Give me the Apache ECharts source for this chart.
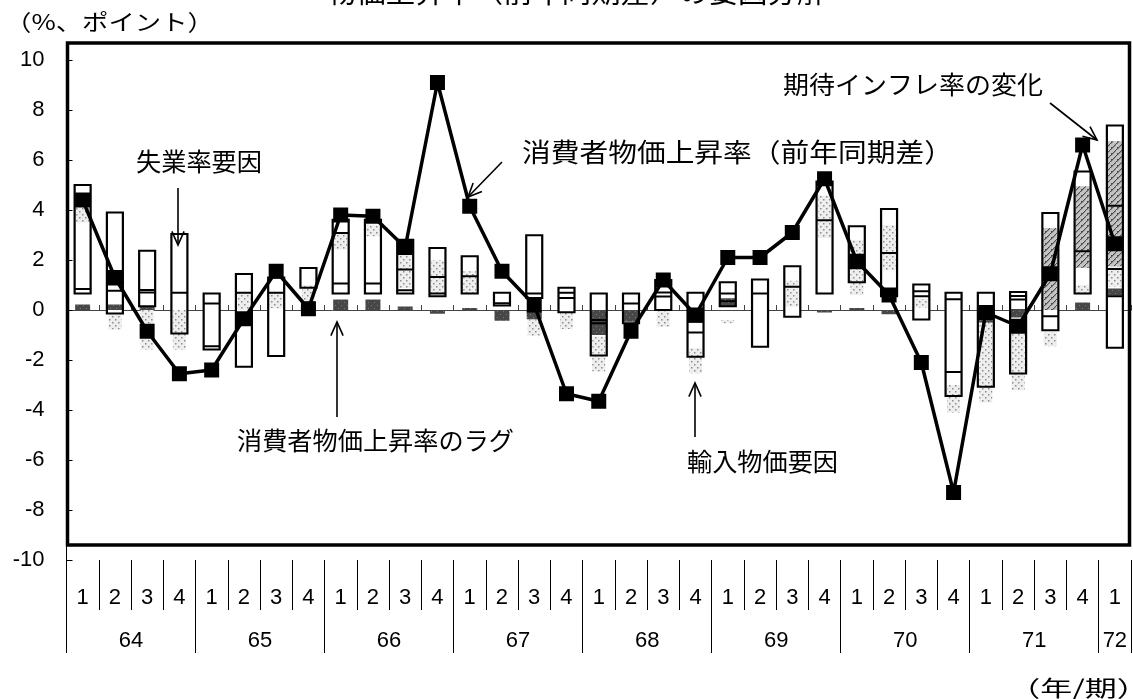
<!DOCTYPE html>
<html>
<head>
<meta charset="utf-8">
<script src="https://cdn.jsdelivr.net/npm/echarts@6/dist/echarts.min.js"></script>
<style>
  html, body { margin: 0; padding: 0; background: #fff; }
  #main { width: 1133px; height: 699px; }
</style>
</head>
<body>
<div id="main"></div>
<script>
// 四半期ラベル（64年1期〜72年1期）
const quarters = ['1','2','3','4','1','2','3','4','1','2','3','4','1','2','3','4',
  '1','2','3','4','1','2','3','4','1','2','3','4','1','2','3','4','1'];
const years = ['64','64','64','64','65','65','65','65','66','66','66','66','67','67','67','67',
  '68','68','68','68','69','69','69','69','70','70','70','70','71','71','71','71','72'];

// 消費者物価上昇率（前年同期差）
const cpi = [4.4, 1.3, -0.85, -2.55, -2.4, -0.35, 1.55, 0.05, 3.8, 3.75, 2.5, 9.1, 4.15, 1.55, 0.2, -3.35,
  -3.65, -0.85, 1.2, -0.2, 2.1, 2.1, 3.1, 5.25, 1.95, 0.6, -2.1, -7.3, -0.1, -0.65, 1.45, 6.6, 2.65];

// 失業率要因（白枠）の下端・上端と内部の区切り
const boxLow = [0.66, -0.14, 0.15, -0.94, -1.58, -2.27, -1.84, 0.89, 0.66, 0.66, 0.66, 0.55, 0.66, 0.18, 0.48, -0.09,
  -1.82, -0.53, 0, -1.87, 0.15, -1.47, -0.27, 0.66, 1.11, 0.55, -0.38, -3.44, -3.07, -2.54, -0.81, 0.66, -1.51];
const boxHigh = [5.0, 3.9, 2.37, 3.04, 0.66, 1.44, 1.3, 1.68, 3.61, 3.61, 2.81, 2.48, 2.15, 0.69, 2.99, 0.89,
  0.66, 0.66, 1.2, 0.69, 1.11, 1.22, 1.75, 5.14, 3.35, 4.04, 1.02, 0.69, 0.69, 0.72, 3.88, 5.54, 7.38];
const boxLines = [[0.84], [0.77, 1.02], [0.7, 0.8], [0.69], [0.26, -1.45], [0.69], [0.69], [], [1.06, 3.08], [1.06],
  [0.79, 1.62], [0.66, 1.32], [1.35], [0.27], [0.66], [0.48, 0.69], [-0.4, -0.53], [0.26], [0.54, 0.7], [-0.47, -0.9],
  [0.35, 0.66], [0.66], [0.93], [3.59], [1.67], [2.28], [0.55, 0.75], [0.43, -2.48], [], [0.42, 0.56], [-0.25], [2.35],
  [0.55, 1.64, 4.17]];

// 輸入物価要因（点描）
const importLow = [3.5, -0.78, -1.58, -1.58, null, 0, 0.07, 0.27, 2.42, 2.95, 0.88, 0.68, 0.68, null, -1.03, -0.76,
  -2.46, -1.13, -0.67, -2.53, -0.53, null, 0.13, 2.88, 0.6, 1.6, 0.1, -4.1, -3.7, -3.2, -1.45, 0.6, 0.94];
const importHigh = [4.1, -0.2, 0, 0, null, 0.69, 0.69, 1.0, 3.08, 3.41, 2.21, 1.99, 1.55, null, -0.37, -0.1,
  -1.06, -0.53, 0, -1.53, -0.4, null, 1.17, 4.57, 2.8, 3.4, 0.44, -3.0, -0.16, -0.44, -0.9, 1.0, 1.75];

// 消費者物価上昇率のラグ（濃い網掛け）
const lagLow = [0, 0, 0, null, null, null, null, 0, 0, 0, 0, -0.15, 0, -0.43, -0.37, null,
  -1.0, -0.47, null, -0.47, 0.15, null, null, -0.1, 0, -0.17, null, null, -0.5, -0.3, null, 0, 0.58];
const lagHigh = [0.22, 0.22, 0.15, null, null, null, null, 0.12, 0.42, 0.42, 0.14, 0, 0.08, 0, 0, null,
  0, 0, null, 0, 0.47, null, null, 0, 0.08, 0, null, null, 0.1, 0.04, null, 0.3, 0.86];

// 期待インフレ率の変化（斜線）
const expectLow = [null, null, null, null, null, null, null, null, null, null, null, null, null, null, null, null,
  null, null, null, null, null, null, null, null, null, null, null, null, null, null, 0, 1.69, 1.75];
const expectHigh = [null, null, null, null, null, null, null, null, null, null, null, null, null, null, null, null,
  null, null, null, null, null, null, null, null, null, null, null, null, null, null, 3.28, 4.95, 6.75];

const NUM_FONT = "'Liberation Sans', Arial, sans-serif";
const JP_FONT = "'Noto Sans CJK JP', sans-serif";

function pattern (bg, fg, kind) {
  const c = document.createElement('canvas');
  c.width = 6;
  c.height = 6;
  const g = c.getContext('2d');
  g.fillStyle = bg;
  g.fillRect(0, 0, 6, 6);
  g.fillStyle = fg;
  if (kind === 'dot') {
    g.fillRect(1, 1, 1.5, 1.5);
    g.fillRect(4, 4, 1.5, 1.5);
  } else if (kind === 'hatch') {
    for (let k = 0; k < 6; k++) g.fillRect(k, 5 - k, 1.2, 1.2);
    g.fillRect(1, 3, 1, 1);
  } else {
    g.fillRect(2, 2, 1, 1);
    g.fillRect(5, 5, 1, 1);
  }
  return { image: c, repeat: 'repeat' };
}

const dotFill = pattern('#eeeeee', '#8c8c8c', 'dot');
const hatchFill = pattern('#c4c4c4', '#4a4a4a', 'hatch');
const darkFill = pattern('#474747', '#7a7a7a', 'dark');

function toRanges (lows, highs) {
  const out = [];
  lows.forEach((lo, i) => {
    if (lo != null) out.push([i, lo, highs[i]]);
  });
  return out;
}

function rangeSeries (name, lows, highs, fill, w, z) {
  return {
    name: name,
    type: 'custom',
    z: z,
    data: toRanges(lows, highs),
    encode: { x: 0, y: [1, 2] },
    renderItem (params, api) {
      const i = api.value(0);
      const p1 = api.coord([i, api.value(1)]);
      const p2 = api.coord([i, api.value(2)]);
      return {
        type: 'rect',
        shape: { x: p1[0] - w / 2, y: Math.min(p1[1], p2[1]), width: w, height: Math.abs(p1[1] - p2[1]) },
        style: { fill: fill }
      };
    }
  };
}

const boxEdge = {
  name: '失業率要因',
  type: 'custom',
  z: 6,
  data: toRanges(boxLow, boxHigh),
  encode: { x: 0, y: [1, 2] },
  renderItem (params, api) {
    const i = api.value(0);
    const w = 16;
    const p1 = api.coord([i, api.value(1)]);
    const p2 = api.coord([i, api.value(2)]);
    const children = [{
      type: 'rect',
      shape: { x: p1[0] - w / 2, y: Math.min(p1[1], p2[1]), width: w, height: Math.abs(p1[1] - p2[1]) },
      style: { fill: 'none', stroke: '#000', lineWidth: 2.2 }
    }];
    boxLines[i].forEach(v => {
      const y = api.coord([i, v])[1];
      children.push({
        type: 'line',
        shape: { x1: p1[0] - w / 2, y1: y, x2: p1[0] + w / 2, y2: y },
        style: { stroke: '#000', lineWidth: 2 }
      });
    });
    return { type: 'group', children: children };
  }
};

// 文字の幅を元図に合わせる（左右の端 x0〜x1 に収める）
const measureCtx = document.createElement('canvas').getContext('2d');
function label (text, x0, x1, cy, size) {
  const font = size + 'px ' + JP_FONT;
  measureCtx.font = font;
  measureCtx.textAlign = 'left';
  const m = measureCtx.measureText(text);
  const inkL = -m.actualBoundingBoxLeft;
  const inkR = m.actualBoundingBoxRight;
  const s = (x1 - x0) / (inkR - inkL);
  return {
    type: 'text', x: x0 - s * inkL, y: cy, scaleX: s, z: 100,
    style: { text: text, fill: '#000', font: font, align: 'left', verticalAlign: 'middle' }
  };
}

function arrow (x1, y1, x2, y2) {
  // 矢印（線と開いた矢じり）
  const ang = Math.atan2(y2 - y1, x2 - x1);
  const len = 15;
  const spread = 0.42;
  const a = [x2 - len * Math.cos(ang - spread), y2 - len * Math.sin(ang - spread)];
  const b = [x2 - len * Math.cos(ang + spread), y2 - len * Math.sin(ang + spread)];
  return [
    { type: 'line', z: 100, shape: { x1: x1, y1: y1, x2: x2, y2: y2 }, style: { stroke: '#000', lineWidth: 1.6 } },
    { type: 'polyline', z: 100, shape: { points: [a, [x2, y2], b] }, style: { stroke: '#000', lineWidth: 1.6, fill: 'none' } }
  ];
}

const chart = echarts.init(document.getElementById('main'));

const option = {
  backgroundColor: '#fff',
  animation: false,
  grid: { left: 66.5, right: 2, top: 60, bottom: 139, containLabel: false, outerBoundsMode: 'none' },
  xAxis: [
    {
      type: 'category', data: quarters, position: 'bottom', offset: 0,
      axisLine: { show: false, onZero: false },
      axisTick: { show: true, interval: 0, length: 50, lineStyle: { color: '#000', width: 1 } },
      axisLabel: { interval: 0, margin: 27, fontSize: 22, color: '#000', fontFamily: NUM_FONT },
      splitLine: { show: false }
    },
    {
      type: 'category', data: years, position: 'bottom', offset: 0,
      axisLine: { show: false, onZero: false },
      axisTick: { show: true, interval: (i) => i % 4 === 0, length: 93, lineStyle: { color: '#000', width: 1 } },
      axisLabel: {
        interval: (i) => i % 4 === 1 || i === 32,
        margin: 70, fontSize: 22, color: '#000', fontFamily: NUM_FONT,
        formatter: (v, i) => i === 32 ? v : '{s|' + v + '}',
        rich: { s: { padding: [0, 0, 0, 32.26], fontSize: 22, color: '#000', fontFamily: NUM_FONT } }
      },
      splitLine: { show: false }
    },
    {
      type: 'category', data: quarters, position: 'bottom',
      axisLine: { show: true, onZero: true, lineStyle: { color: '#444', width: 1 } },
      axisTick: { show: true, inside: true, interval: 0, length: 5, lineStyle: { color: '#444', width: 1 } },
      axisLabel: { show: false },
      splitLine: { show: false }
    }
  ],
  yAxis: {
    type: 'value', min: -10, max: 10, interval: 2,
    axisLine: { show: true, lineStyle: { color: '#000', width: 1 } },
    axisTick: { show: true, inside: true, length: 6, lineStyle: { color: '#000', width: 1 } },
    axisLabel: { margin: 22, fontSize: 22, color: '#000', fontFamily: NUM_FONT },
    splitLine: { show: false }
  },
  series: [
    rangeSeries('白地', boxLow, boxHigh, '#fff', 16, 2),
    rangeSeries('輸入物価要因', importLow, importHigh, dotFill, 13, 3),
    rangeSeries('期待インフレ率の変化', expectLow, expectHigh, hatchFill, 14, 4),
    rangeSeries('消費者物価上昇率のラグ', lagLow, lagHigh, darkFill, 15, 5),
    boxEdge,
    {
      name: '消費者物価上昇率（前年同期差）',
      type: 'line',
      data: cpi,
      z: 10,
      symbol: 'rect',
      symbolSize: 15,
      itemStyle: { color: '#000' },
      lineStyle: { color: '#000', width: 3.5 }
    }
  ],
  graphic: [
    {
      type: 'rect', z: 90,
      shape: { x: 67.5, y: 43, width: 1062, height: 502 },
      style: { fill: 'none', stroke: '#000', lineWidth: 3.5 }
    },
    label('物価上昇率（前年同期差）の要因分解', 327, 825, -8, 28),
    label('（%、ポイント）', 23, 196, 22, 22),
    label('失業率要因', 137, 261, 161, 25),
    label('消費者物価上昇率（前年同期差）', 522, 933, 152, 26),
    label('期待インフレ率の変化', 783, 1043, 84, 25),
    label('消費者物価上昇率のラグ', 237, 513, 440, 25),
    label('輸入物価要因', 687, 837, 461, 25),
    label('（年/期）', 1030, 1127, 688, 22)
  ].concat(
    arrow(178, 188, 178, 245),
    arrow(502, 162, 468, 197),
    arrow(1050, 103, 1097, 140),
    arrow(337, 417, 337, 322),
    arrow(695, 437, 695, 383)
  )
};

chart.setOption(option);
</script>
</body>
</html>
